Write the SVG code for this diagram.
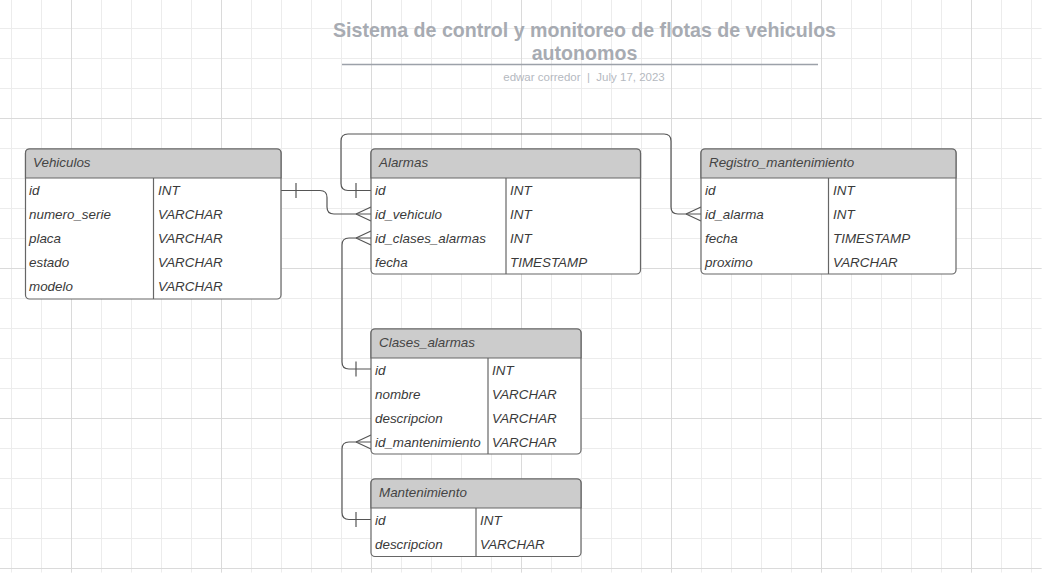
<svg xmlns="http://www.w3.org/2000/svg" width="1042" height="573" viewBox="0 0 1042 573">
<defs>
<pattern id="minor" x="11.5" y="28.5" width="30" height="30" patternUnits="userSpaceOnUse">
<path d="M0 0.5 H30 M0.5 0 V30" fill="none" stroke="#ececec" stroke-width="1"/>
</pattern>
<pattern id="major" x="71.5" y="118.5" width="150" height="150" patternUnits="userSpaceOnUse">
<path d="M0 0.5 H150 M0.5 0 V150" fill="none" stroke="#dadada" stroke-width="1"/>
</pattern>
</defs>
<style>
.box{fill:#fff;stroke:#666;stroke-width:1.2}
.hdr{fill:#cccccc;stroke:#666;stroke-width:1.2}
.div{stroke:#666;stroke-width:1.2}
.t{font-family:"Liberation Sans",Arial,sans-serif;font-size:13.4px;font-style:italic;fill:#3a3a3a}
.h{font-family:"Liberation Sans",Arial,sans-serif;font-size:13.4px;font-style:italic;fill:#444}
.c{fill:none;stroke:#555;stroke-width:1.2}
.title{font-family:"Liberation Sans",Arial,sans-serif;font-size:19.6px;font-weight:bold;fill:#a7abb2;text-anchor:middle}
.sub{font-family:"Liberation Sans",Arial,sans-serif;font-size:11.5px;fill:#b5b9bf;text-anchor:middle}
</style>
<rect width="1042" height="573" fill="#fff"/>
<rect width="1042" height="573" fill="url(#minor)" transform="translate(-0.5,-0.5)"/>
<rect width="1042" height="573" fill="url(#major)" transform="translate(-0.5,-0.5)"/>

<g id="title">
<text class="title" x="584.5" y="37">Sistema de control y monitoreo de flotas de vehiculos</text>
<text class="title" x="584.5" y="60">autonomos</text>
<line x1="342" y1="64.5" x2="818" y2="64.5" stroke="#9ca1a9" stroke-width="1.5"/>
<text class="sub" x="584" y="81" xml:space="preserve">edwar corredor  |  July 17, 2023</text>
</g>

<g id="connectors">
<path class="c" d="M281 190.5 H320 Q327 190.5 327 197.5 V207 Q327 214 334 214 H371"/>
<path class="c" d="M296 183 V198"/>
<path class="c" d="M356 214 L371 207 M356 214 L371 221"/>
<path class="c" d="M371 190.5 H348 Q341 190.5 341 183.5 V141 Q341 134 348 134 H664 Q671 134 671 141 V207 Q671 214 678 214 H701"/>
<path class="c" d="M356 183 V198"/>
<path class="c" d="M686 214 L701 207 M686 214 L701 221"/>
<path class="c" d="M371 238 H349 Q342 238 342 245 V362 Q342 369 349 369 H371"/>
<path class="c" d="M356 238 L371 231 M356 238 L371 245"/>
<path class="c" d="M356 361.5 V376.5"/>
<path class="c" d="M371 442 H349 Q342 442 342 449 V512.5 Q342 519.5 349 519.5 H371"/>
<path class="c" d="M356 442 L371 435 M356 442 L371 449"/>
<path class="c" d="M356 512 V527"/>
</g>

<g id="Vehiculos">
<rect class="box" x="25.5" y="149" width="255.5" height="150" rx="4"/>
<path class="hdr" d="M25.5 178 V153 Q25.5 149 29.5 149 H277 Q281 149 281 153 V178 Z"/>
<line class="div" x1="153.5" y1="178" x2="153.5" y2="299"/>
<text class="h" x="33" y="167">Vehiculos</text>
<text class="t" x="29" y="194.5">id</text><text class="t" x="158" y="194.5">INT</text>
<text class="t" x="29" y="218.5">numero_serie</text><text class="t" x="158" y="218.5">VARCHAR</text>
<text class="t" x="29" y="242.5">placa</text><text class="t" x="158" y="242.5">VARCHAR</text>
<text class="t" x="29" y="266.5">estado</text><text class="t" x="158" y="266.5">VARCHAR</text>
<text class="t" x="29" y="290.5">modelo</text><text class="t" x="158" y="290.5">VARCHAR</text>
</g>

<g id="Alarmas">
<rect class="box" x="371" y="149" width="269.5" height="125" rx="4"/>
<path class="hdr" d="M371 178 V153 Q371 149 375 149 H636.5 Q640.5 149 640.5 153 V178 Z"/>
<line class="div" x1="506" y1="178" x2="506" y2="274"/>
<text class="h" x="379" y="167">Alarmas</text>
<text class="t" x="375" y="194.5">id</text><text class="t" x="510" y="194.5">INT</text>
<text class="t" x="375" y="218.5">id_vehiculo</text><text class="t" x="510" y="218.5">INT</text>
<text class="t" x="375" y="242.5">id_clases_alarmas</text><text class="t" x="510" y="242.5">INT</text>
<text class="t" x="375" y="266.5">fecha</text><text class="t" x="510" y="266.5">TIMESTAMP</text>
</g>

<g id="Registro_mantenimiento">
<rect class="box" x="701" y="149" width="255" height="125" rx="4"/>
<path class="hdr" d="M701 178 V153 Q701 149 705 149 H952 Q956 149 956 153 V178 Z"/>
<line class="div" x1="828.5" y1="178" x2="828.5" y2="274"/>
<text class="h" x="709" y="167">Registro_mantenimiento</text>
<text class="t" x="705" y="194.5">id</text><text class="t" x="833" y="194.5">INT</text>
<text class="t" x="705" y="218.5">id_alarma</text><text class="t" x="833" y="218.5">INT</text>
<text class="t" x="705" y="242.5">fecha</text><text class="t" x="833" y="242.5">TIMESTAMP</text>
<text class="t" x="705" y="266.5">proximo</text><text class="t" x="833" y="266.5">VARCHAR</text>
</g>

<g id="Clases_alarmas">
<rect class="box" x="371" y="329" width="210" height="125" rx="4"/>
<path class="hdr" d="M371 358 V333 Q371 329 375 329 H577 Q581 329 581 333 V358 Z"/>
<line class="div" x1="488" y1="358" x2="488" y2="454"/>
<text class="h" x="379" y="347">Clases_alarmas</text>
<text class="t" x="375" y="374.5">id</text><text class="t" x="492" y="374.5">INT</text>
<text class="t" x="375" y="398.5">nombre</text><text class="t" x="492" y="398.5">VARCHAR</text>
<text class="t" x="375" y="422.5">descripcion</text><text class="t" x="492" y="422.5">VARCHAR</text>
<text class="t" x="375" y="446.5">id_mantenimiento</text><text class="t" x="492" y="446.5">VARCHAR</text>
</g>

<g id="Mantenimiento">
<rect class="box" x="371" y="479" width="210" height="77.5" rx="4"/>
<path class="hdr" d="M371 508 V483 Q371 479 375 479 H577 Q581 479 581 483 V508 Z"/>
<line class="div" x1="476" y1="508" x2="476" y2="556.5"/>
<text class="h" x="379" y="497">Mantenimiento</text>
<text class="t" x="375" y="524.5">id</text><text class="t" x="480" y="524.5">INT</text>
<text class="t" x="375" y="548.5">descripcion</text><text class="t" x="480" y="548.5">VARCHAR</text>
</g>
</svg>
